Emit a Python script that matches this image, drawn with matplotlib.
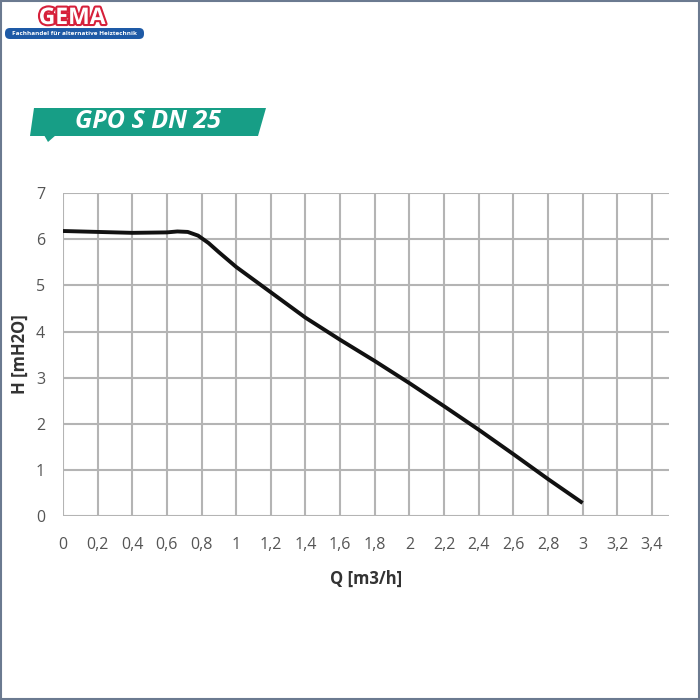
import matplotlib
matplotlib.use("Agg")
import matplotlib.pyplot as plt
import matplotlib.patheffects as pe
from matplotlib.patches import Polygon, FancyBboxPatch, Rectangle

# Data
q_flow = [0.0, 0.2, 0.4, 0.6, 0.66, 0.72, 0.78, 0.84, 0.9, 1.0, 1.2, 1.4, 1.6, 1.8, 2.0, 2.2, 2.4, 2.6, 2.8, 3.0]
head = [6.18, 6.16, 6.14, 6.15, 6.17, 6.16, 6.08, 5.92, 5.72, 5.40, 4.85, 4.30, 3.82, 3.36, 2.88, 2.38, 1.87, 1.34, 0.80, 0.28]
x_ticks = [0, 0.2, 0.4, 0.6, 0.8, 1, 1.2, 1.4, 1.6, 1.8, 2, 2.2, 2.4, 2.6, 2.8, 3, 3.2, 3.4]
x_tick_labels = ["0", "0,2", "0,4", "0,6", "0,8", "1", "1,2", "1,4", "1,6", "1,8", "2", "2,2", "2,4", "2,6", "2,8", "3", "3,2", "3,4"]
y_ticks = [0, 1, 2, 3, 4, 5, 6, 7]
title_text = "GPO S DN 25"
x_label = "Q [m3/h]"
y_label = "H [mH2O]"

plt.rcParams['font.family'] = ['Open Sans', 'DejaVu Sans']

fig = plt.figure(figsize=(7, 7), dpi=100)
fig.patch.set_facecolor("white")

ax = fig.add_axes([0.09, 0.263, 0.866, 0.461])
ax.set_xlim(0, 3.5)
ax.set_ylim(0, 7)
ax.set_xticks(x_ticks)
ax.set_xticklabels(x_tick_labels)
ax.set_yticks(y_ticks)
grid_c = "#b4b4b4"
for x in x_ticks:
    ax.axvline(x, color=grid_c, lw=1.5, zorder=1)
for y in y_ticks:
    ax.axhline(y, color=grid_c, lw=1.5, zorder=1)
for s in ax.spines.values():
    s.set_visible(False)
ax.tick_params(length=0, labelsize=11.5, colors="#555555")
ax.tick_params(axis="x", pad=15)
ax.tick_params(axis="y", pad=13)
ax.plot(q_flow, head, color="#111111", lw=2.8, solid_capstyle="butt", solid_joinstyle="round", zorder=3)
ax.set_xlabel(x_label, fontsize=12, fontweight="bold", color="#333333", labelpad=12)
ax.set_ylabel(y_label, fontsize=12, fontweight="bold", color="#333333", labelpad=5)

# Banner
def px(x, y):
    return (x / 700, 1 - y / 700)
banner = Polygon([px(34, 108), px(266, 108), px(258, 136), px(30, 136)], closed=True,
                 transform=fig.transFigure, facecolor="#179e86", edgecolor="none")
fig.add_artist(banner)
tail = Polygon([px(44, 135), px(56, 135), px(48, 142)], closed=True,
               transform=fig.transFigure, facecolor="#179e86", edgecolor="none")
fig.add_artist(tail)
fig.text(148 / 700, 1 - 122 / 700, title_text, fontsize=18, fontweight="bold", style="italic",
         color="white", ha="center", va="center")

# Logo
bar = FancyBboxPatch(px(5, 39), 139 / 700, 11 / 700, boxstyle="round,pad=0,rounding_size=0.007",
                     transform=fig.transFigure, facecolor="#1e5aa6", edgecolor="none")
fig.add_artist(bar)
fig.text(74 / 700, 1 - 33.5 / 700, "Fachhandel für alternative Heiztechnik", fontsize=4.6,
         fontweight="bold", color="white", ha="center", va="center")
fig.text(72 / 700, 1 - 18 / 700, "GEMA", fontsize=16.5, fontweight="bold", color="white",
         ha="center", va="center",
         path_effects=[pe.withStroke(linewidth=3, foreground="#d6203a")])

# Frame
fig.add_artist(Rectangle((0.001, 0.001), 0.997, 0.997, transform=fig.transFigure,
                         fill=False, edgecolor="#6b7a90", lw=1.5))

fig.savefig("out.png", dpi=100)
